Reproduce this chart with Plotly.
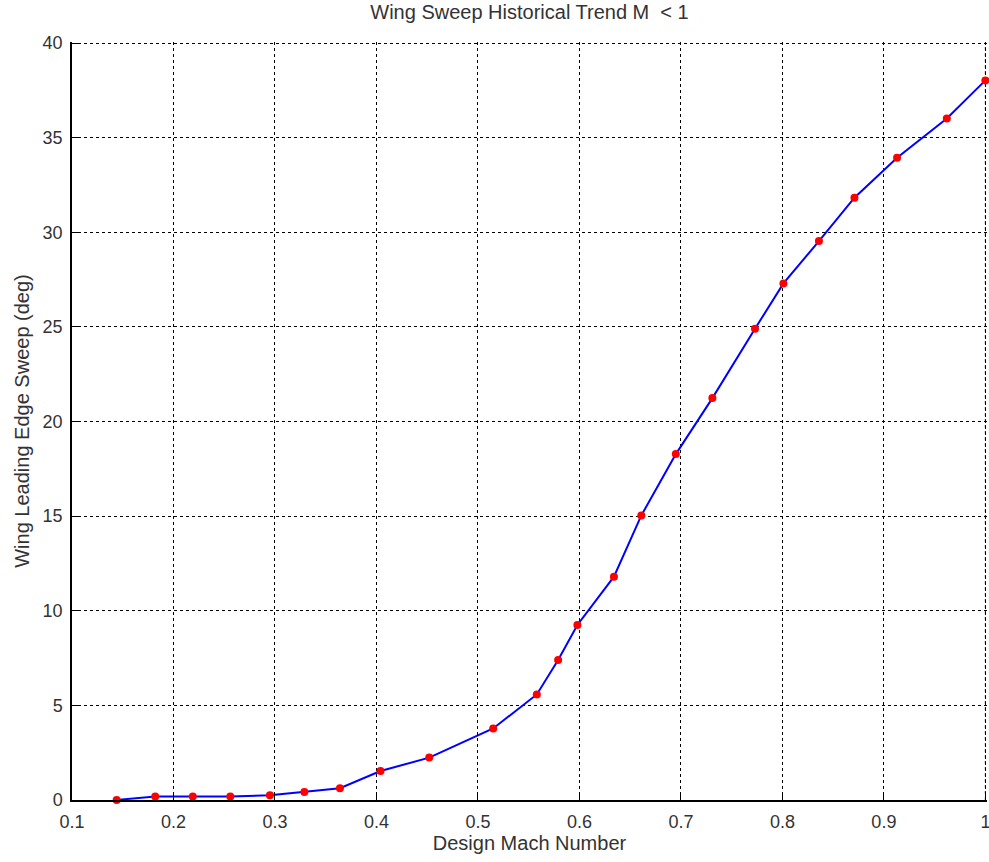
import plotly.graph_objects as go

mach = [0.144, 0.182, 0.219, 0.256, 0.295, 0.329, 0.364, 0.404, 0.452, 0.515,
        0.558, 0.579, 0.598, 0.634, 0.661, 0.695, 0.731, 0.773, 0.801, 0.836,
        0.871, 0.913, 0.962, 1.0]
sweep = [0.0, 0.19, 0.19, 0.19, 0.25, 0.42, 0.62, 1.53, 2.24, 3.78,
         5.58, 7.40, 9.25, 11.8, 15.04, 18.28, 21.24, 24.9, 27.3, 29.54,
         31.83, 33.94, 36.02, 38.03]

x_ticks = [0.1, 0.2, 0.3, 0.4, 0.5, 0.6, 0.7, 0.8, 0.9, 1.0]
x_tick_labels = ["0.1", "0.2", "0.3", "0.4", "0.5", "0.6", "0.7", "0.8", "0.9", "1"]
y_ticks = [0, 5, 10, 15, 20, 25, 30, 35, 40]

fig = go.Figure()
fig.add_trace(go.Scatter(
    x=mach, y=sweep, mode="lines+markers",
    line=dict(color="#0000ff", width=2),
    marker=dict(color="#ff0000", size=8),
    showlegend=False, cliponaxis=False,
))

font = dict(family="Liberation Sans, Arial, sans-serif", size=18, color="#333333")
fig.update_layout(
    width=989, height=862,
    margin=dict(l=72, r=2, t=42, b=62),
    paper_bgcolor="white", plot_bgcolor="white",
    font=font,
    title=dict(text="Wing Sweep Historical Trend M  < 1", xref="paper", x=0.5,
               xanchor="center", y=0.994, yanchor="top",
               font=dict(size=20, color="#333333")),
)
# right-edge grid line at the last x tick (plotly drops grid lines on the plot edge)
fig.add_shape(type="line", xref="x", yref="paper", x0=x_ticks[-1], x1=x_ticks[-1],
              y0=0, y1=1, line=dict(color="black", width=1, dash="3px,3px"),
              layer="below")
fig.update_xaxes(
    range=[0.1, 1.0016], tickvals=x_ticks, ticktext=x_tick_labels,
    showgrid=True, gridcolor="black", gridwidth=1, griddash="3px,3px",
    showline=True, linecolor="black", linewidth=1.5,
    ticks="inside", ticklen=6, tickcolor="black",
    zeroline=False, automargin=False, ticklabelstandoff=5,
    ticklabeloverflow="allow",
    title=dict(text="Design Mach Number", standoff=5, font=dict(size=20)),
    tickfont=dict(size=18),
)
fig.update_yaxes(
    range=[0, 40.06], tickvals=y_ticks,
    showgrid=True, gridcolor="black", gridwidth=1, griddash="3px,3px",
    showline=True, linecolor="black", linewidth=1.5,
    ticks="inside", ticklen=6, tickcolor="black",
    zeroline=False, automargin=False, ticklabelstandoff=4,
    title=dict(text="Wing Leading Edge Sweep (deg)", standoff=8, font=dict(size=20)),
    tickfont=dict(size=18),
)

fig.write_html("out.html")
